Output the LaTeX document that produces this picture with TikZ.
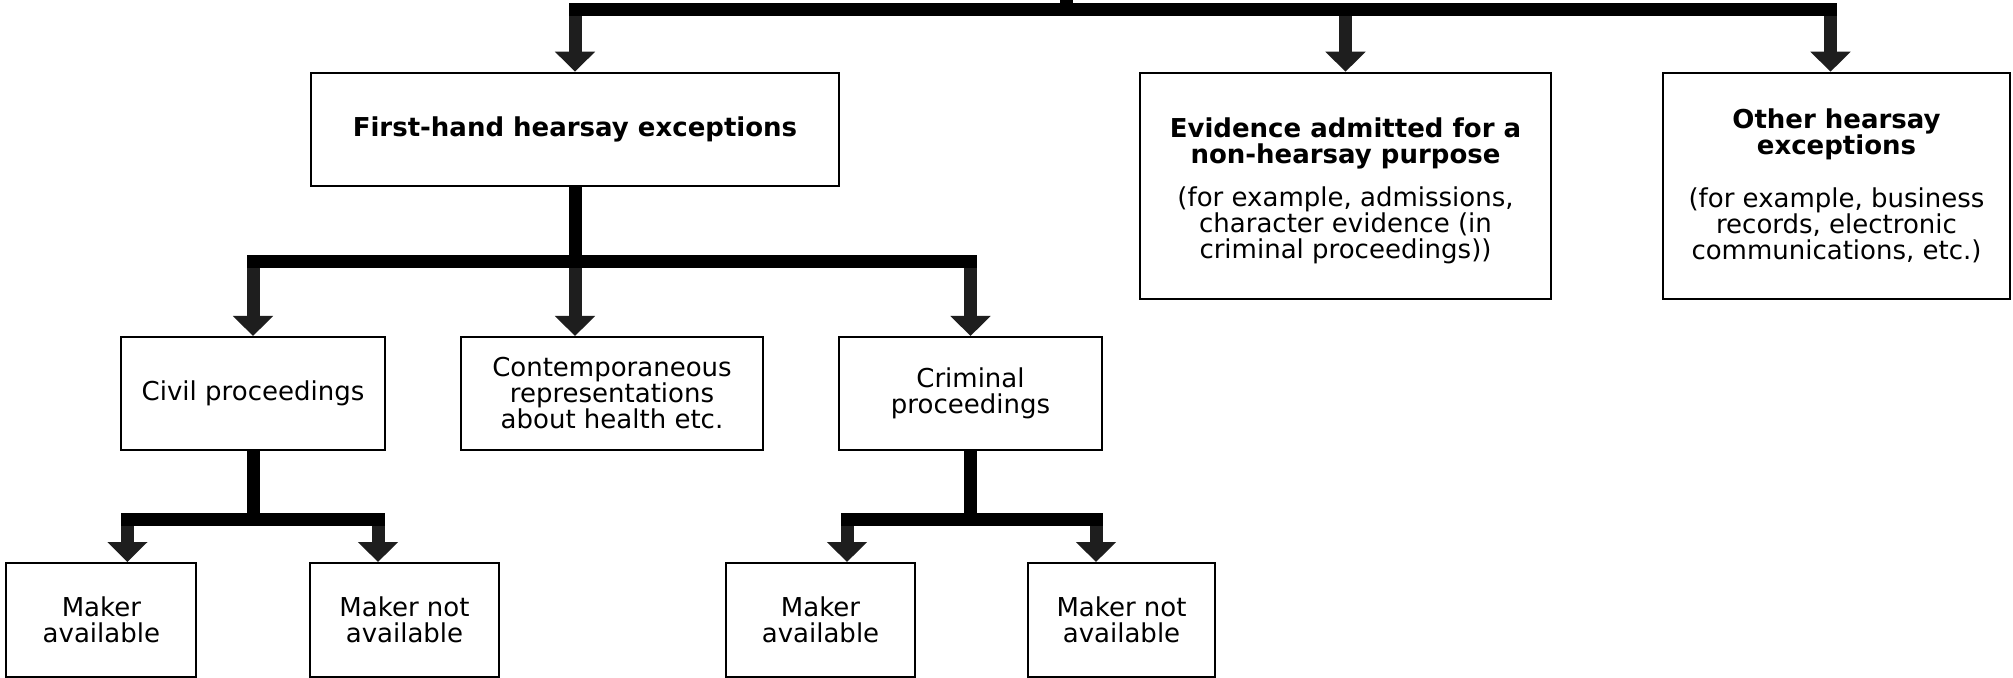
\documentclass[tikz,border=0pt]{standalone}
\usepackage{fontspec}
\setmainfont{DejaVu Sans}
\usetikzlibrary{arrows.meta}
\definecolor{shaft}{RGB}{30,30,30}
\begin{document}
\begin{tikzpicture}[x=0.5pt,y=-0.5pt,
  box/.style={draw=black, line width=1pt, fill=white, inner sep=0pt, align=center,
    font=\fontsize{13}{13}\selectfont},
  txt/.style={inner sep=0pt, align=center, font=\fontsize{13}{13}\selectfont},
  bar/.style={draw=black, line width=6.5pt, line cap=rect},
  stem/.style={draw=black, line width=6.5pt, line cap=butt},
  arr/.style={draw=shaft, line width=6.5pt, line cap=butt,
    -{Triangle[width=19.5pt,length=10pt,fill=shaft]}}
]
\fill[white] (0,0) rectangle (2013,678);
\useasboundingbox (0,0) rectangle (2013,678);

% boxes
\node[box, minimum width=264.35pt, minimum height=56.5pt] (fh) at (575,129.2)
  {\bfseries First-hand hearsay exceptions};
\node[box, minimum width=205.5pt, minimum height=113.15pt] (ev) at (1345.5,185.9) {};
\node[txt] (evt) at ([yshift=-2.5pt]ev.center)
  {\bfseries Evidence admitted for a\\\bfseries non-hearsay purpose\\[8.5pt]
   (for example, admissions,\\character evidence (in\\criminal proceedings))};
\node[box, minimum width=173.5pt, minimum height=113.15pt] (ot) at (1836.5,185.9)
  {\bfseries Other hearsay\\\bfseries exceptions\\[13.5pt]
   (for example, business\\records, electronic\\communications, etc.)};
\node[box, minimum width=132pt, minimum height=56.5pt] (civ) at (253,393.5)
  {Civil proceedings};
\node[box, minimum width=151pt, minimum height=56.5pt] (con) at (612,393.5)
  {Contemporaneous\\representations\\about health etc.};
\node[box, minimum width=131.5pt, minimum height=56.5pt] (crim) at (970.5,393.5)
  {Criminal\\proceedings};
\node[box, minimum width=95pt, minimum height=57pt] (cma) at (101.4,620)
  {Maker\\available};
\node[box, minimum width=94.5pt, minimum height=57pt] (cmn) at (404.5,620)
  {Maker not\\available};
\node[box, minimum width=94.5pt, minimum height=57pt] (kma) at (820.5,620)
  {Maker\\available};
\node[box, minimum width=93.5pt, minimum height=57pt] (kmn) at (1121.5,620)
  {Maker not\\available};

% junction levels and arrow entry points
\coordinate (top) at (1066.5,-10);
\coordinate (b0) at (0,9.7);
\coordinate (b1) at (0,261.4);
\coordinate (b2) at (0,519.4);
\coordinate (otT) at ([xshift=-3pt]ot.north);
\coordinate (cmaT) at ([xshift=13pt]cma.north);
\coordinate (cmnT) at ([xshift=-13.25pt]cmn.north);
\coordinate (kmaT) at ([xshift=13.25pt]kma.north);
\coordinate (kmnT) at ([xshift=-12.75pt]kmn.north);

% top level
\draw[arr] (fh.north |- b0) -- (fh.north);
\draw[arr] (ev.north |- b0) -- (ev.north);
\draw[arr] (otT |- b0) -- (otT);
\draw[stem] (top) -- (top |- b0);
\draw[bar] (fh.north |- b0) -- (otT |- b0);

% first-hand level
\draw[arr] (civ.north |- b1) -- (civ.north);
\draw[arr] (fh.south |- b1) -- (fh.south |- con.north);
\draw[arr] (crim.north |- b1) -- (crim.north);
\draw[stem] (fh.south) -- (fh.south |- b1);
\draw[bar] (civ.north |- b1) -- (crim.north |- b1);

% civil level
\draw[arr] (cmaT |- b2) -- (cmaT);
\draw[arr] (cmnT |- b2) -- (cmnT);
\draw[stem] (civ.south) -- (civ.south |- b2);
\draw[bar] (cmaT |- b2) -- (cmnT |- b2);

% criminal level
\draw[arr] (kmaT |- b2) -- (kmaT);
\draw[arr] (kmnT |- b2) -- (kmnT);
\draw[stem] (crim.south) -- (crim.south |- b2);
\draw[bar] (kmaT |- b2) -- (kmnT |- b2);
\end{tikzpicture}
\end{document}
